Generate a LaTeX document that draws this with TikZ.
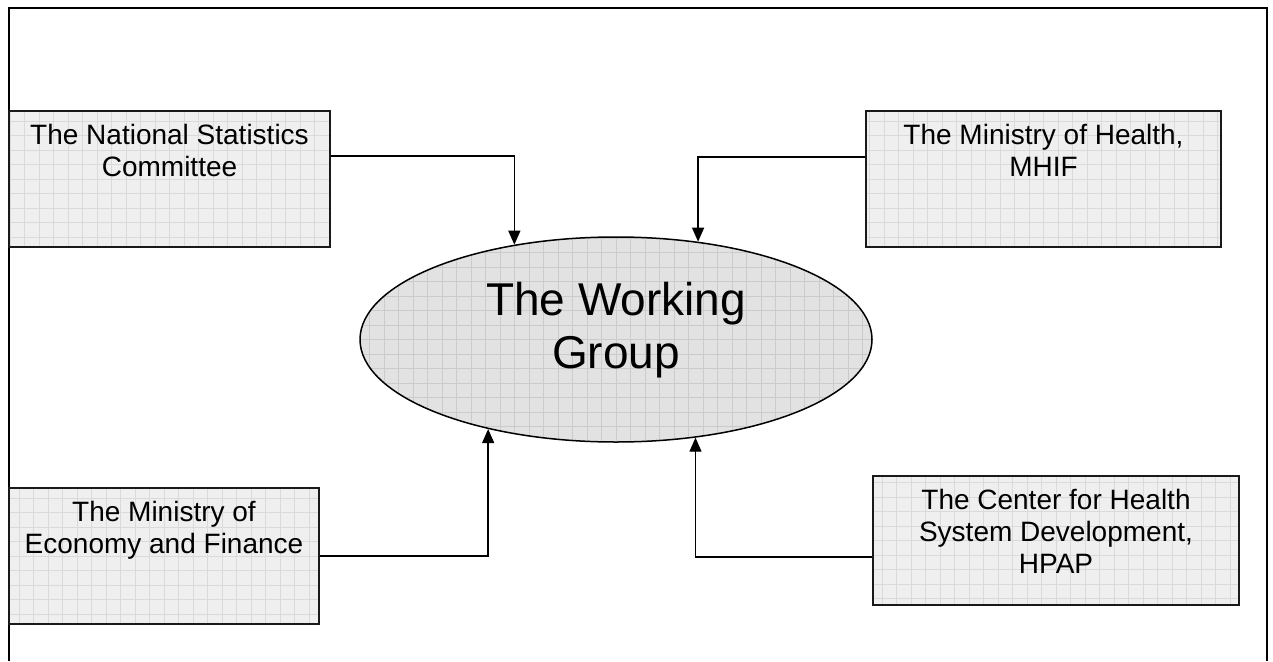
\documentclass[tikz,border=0pt]{standalone}
\usepackage{fontspec}
\setmainfont{Liberation Sans}
\usetikzlibrary{
  shapes,
  arrows.meta,
  positioning}

\definecolor{boxgray}{HTML}{EFEFEF}
\definecolor{boxgrid}{HTML}{DADADA}
\definecolor{ovalgray}{HTML}{E2E2E2}
\definecolor{ovalgrid}{HTML}{CBCBCB}

\begin{document}
\begin{tikzpicture}[x=1pt,y=-1pt]
  \tikzset{gridfill/.style={path picture={\draw[#1,line width=0.5pt,step=14.5pt]
                                   (path picture bounding box.south west) grid
                                   (path picture bounding box.north east);}},
           agency/.style={draw=black!90,
                          line width=2.2pt,
                          rectangle,
                          fill=boxgray,
                          gridfill=boxgrid,
                          inner sep=0pt},
           agencytext/.style={anchor=north,
                              align=center,
                              inner sep=0pt,
                              yshift=-14pt,
                              font=\fontsize{28}{32}\selectfont},
           feed/.style={draw,
                        line width=1.3pt,
                        -{Triangle[length=14pt,width=12pt]}}
           }

%%%%%%%%%%%%%%%%%%%%%%%%%%%%%%%%%%%%%%%%%%%%%%%%%%%%%%%%%%%%%%%%%%%%%%%%%%%%%%

\useasboundingbox (0,0) rectangle (1273,661);
\draw[line width=2pt] (8.5,661) -- (8.5,8.5) -- (1267,8.5) -- (1267,661);

%%%%%%%%%%%%%%%%%%%%%%%%%%%%%%%%%%%%%%%%%%%%%%%%%%%%%%%%%%%%%%%%%%%%%%%%%%%%%%

\node[draw,ellipse,line width=1.5pt,fill=ovalgray,gridfill=ovalgrid,minimum width=512pt,minimum height=205pt,inner sep=0pt,
      label={[align=center,yshift=9pt,font=\fontsize{46}{53}\selectfont]center:{The Working\\Group}}] (WG) at (616,339.5) {};

\node[agency,minimum width=321pt,minimum height=136pt,label={[agencytext]north:{The National Statistics\\Committee}}] (NSC) at (169.5,179) {};

\node[agency,minimum width=355pt,minimum height=136pt,label={[agencytext]north:{The Ministry of Health,\\MHIF}}] (MOH) at (1043.5,179) {};

\node[agency,minimum width=310pt,minimum height=136pt,label={[agencytext]north:{The Ministry of\\Economy and Finance}}] (MEF) at (164,556) {};

\node[agency,minimum width=366pt,minimum height=129pt,label={[agencytext]north:{The Center for Health\\System Development,\\HPAP}}] (CHSD) at (1056,540.5) {};

%%%%%%%%%%%%%%%%%%%%%%%%%%%%%%%%%%%%%%%%%%%%%%%%%%%%%%%%%%%%%%%%%%%%%%%%%%%%%%
\draw[feed]  (NSC.east |- 0,156) -| (WG.137.7);
\draw[feed]  (MOH.west |- 0,157) -| (WG.50.6);
\draw[feed]  (MEF.east) -| (WG.215.03);
\draw[feed]  (CHSD.west |- 0,557) -| (WG.309);

%%%%%%%%%%%%%%%%%%%%%%%%%%%%%%%%%%%%%%%%%%%%%%%%%%%%%%%%%%%%%%%%%%%%%%%%%%%%%%

\end{tikzpicture}
\end{document}
